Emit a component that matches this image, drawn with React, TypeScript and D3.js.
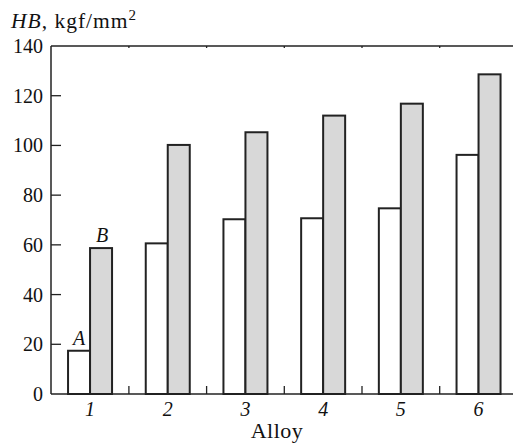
import React from "react";
import * as d3 from "d3";

const alloys = ["1", "2", "3", "4", "5", "6"];
const seriesA = [17.4, 60.6, 70.3, 70.7, 74.7, 96.2];
const seriesB = [58.7, 100.2, 105.3, 112.0, 116.8, 128.6];
const yTicks = [0, 20, 40, 60, 80, 100, 120, 140];

const W = 513;
const H = 446;
const left = 51;
const top = 46;
const bottom = 394;
const font = "'Liberation Serif', 'Times New Roman', serif";

export default function App() {
  const x = d3.scaleBand<string>().domain(alloys).range([51.2, 517.4]).padding(0);
  const y = d3.scaleLinear().domain([0, 140]).range([bottom, top]);
  const inner = d3.scaleBand<string>().domain(["A", "B"]).range([-22, 22]).padding(0);
  const bw = inner.bandwidth();
  const seps = alloys.slice(1).map((a) => x(a) as number);
  const c = (a: string) => (x(a) as number) + x.bandwidth() / 2;

  return (
    <svg width={W} height={H} style={{ position: "absolute", left: 0, top: 0, background: "#fff" }}>
      {alloys.map((a, i) => (
        <g key={a}>
          <rect
            x={c(a) + (inner("A") as number)}
            y={y(seriesA[i])}
            width={bw}
            height={y(0) - y(seriesA[i])}
            fill="#fff"
            stroke="#222"
            strokeWidth={2}
          />
          <rect
            x={c(a) + (inner("B") as number)}
            y={y(seriesB[i])}
            width={bw}
            height={y(0) - y(seriesB[i])}
            fill="#d8d8d8"
            stroke="#222"
            strokeWidth={2}
          />
        </g>
      ))}
      <line x1={left} x2={left} y1={top} y2={bottom} stroke="#222" strokeWidth={1.5} />
      <line x1={left} x2={W} y1={bottom} y2={bottom} stroke="#222" strokeWidth={1.5} />
      <line x1={left} x2={W} y1={top} y2={top} stroke="#222" strokeWidth={1.5} />
      {yTicks.map((t) => (
        <g key={t}>
          {t > 0 && t < 140 && (
            <line x1={left} x2={left + 10} y1={y(t)} y2={y(t)} stroke="#222" strokeWidth={1.3} />
          )}
          <text
            x={43}
            y={y(t) + 7}
            textAnchor="end"
            fontFamily={font}
            fontSize={20}
            fill="#111"
          >
            {t}
          </text>
        </g>
      ))}
      {seps.map((s, i) => (
        <g key={i}>
          <line x1={s} x2={s} y1={bottom} y2={bottom - 8} stroke="#222" strokeWidth={1.3} />
          <line x1={s} x2={s} y1={top} y2={top + 2} stroke="#222" strokeWidth={1.3} />
        </g>
      ))}
      {alloys.map((a) => (
        <text
          key={a}
          x={c(a)}
          y={416}
          textAnchor="middle"
          fontFamily={font}
          fontStyle="italic"
          fontSize={20}
          fill="#111"
        >
          {a}
        </text>
      ))}
      <text
        x={277}
        y={438}
        textAnchor="middle"
        fontFamily={font}
        fontSize={22}
        letterSpacing={0.5}
        fill="#111"
      >
        Alloy
      </text>
      <text
        x={c(alloys[0]) - 11}
        y={y(seriesA[0]) - 6}
        textAnchor="middle"
        fontFamily={font}
        fontStyle="italic"
        fontSize={20}
        fill="#111"
      >
        A
      </text>
      <text
        x={c(alloys[0]) + 12}
        y={y(seriesB[0]) - 6}
        textAnchor="middle"
        fontFamily={font}
        fontStyle="italic"
        fontSize={20}
        fill="#111"
      >
        B
      </text>
      <text x={11} y={28} fontFamily={font} fontSize={21.5} letterSpacing={1} fill="#111">
        <tspan fontStyle="italic">HB</tspan>
        <tspan>, kgf/mm</tspan>
        <tspan dy={-8} fontSize={15}>2</tspan>
      </text>
    </svg>
  );
}
